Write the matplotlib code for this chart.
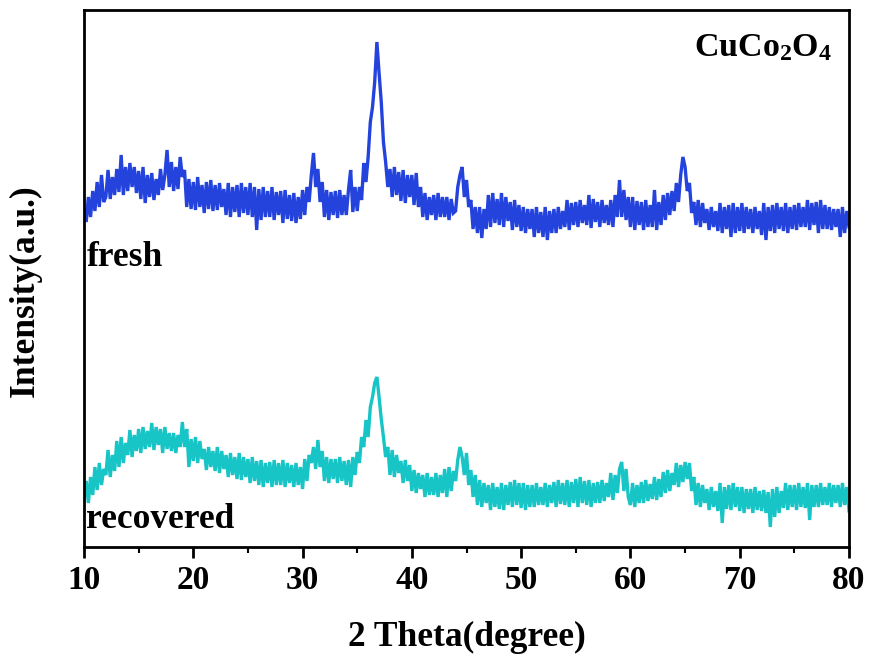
import numpy as np
import matplotlib
matplotlib.use("Agg")
import matplotlib.pyplot as plt

# 2-theta scan from 10 to 80 degrees, 0.2 degree step (5 points per degree)
theta_start, theta_end, theta_step = 10.0, 80.0, 0.2

# Intensities (a.u.), one row per degree
fresh = [
    338, 325, 350, 330, 356,   # 10
    336, 365, 340, 372, 345,   # 11
    350, 377, 348, 370, 352,   # 12
    378, 355, 392, 352, 380,   # 13
    356, 384, 360, 380, 354,   # 14
    376, 348, 380, 344, 372,   # 15
    350, 374, 347, 368, 352,   # 16
    378, 357, 372, 397, 360,   # 17
    385, 356, 380, 358, 390,   # 18
    370, 377, 340, 368, 338,   # 19
    365, 337, 370, 340, 362,   # 20
    334, 365, 338, 367, 336,   # 21
    362, 337, 364, 340, 358,   # 22
    332, 364, 330, 360, 335,   # 23
    362, 330, 364, 334, 360,   # 24
    332, 364, 330, 360, 317,   # 25
    358, 327, 360, 330, 356,   # 26
    330, 360, 327, 355, 332,   # 27
    356, 324, 357, 328, 352,   # 28
    326, 354, 324, 350, 328,   # 29
    357, 332, 360, 345, 372,   # 30
    394, 360, 378, 345, 365,   # 31
    330, 357, 327, 355, 332,   # 32
    356, 329, 357, 332, 352,   # 33
    332, 357, 377, 335, 360,   # 34
    336, 360, 347, 384, 365,   # 35
    390, 425, 440, 465, 505,   # 36
    474, 445, 405, 385, 360,   # 37
    378, 350, 380, 352, 375,   # 38
    346, 377, 344, 372, 350,   # 39
    372, 342, 374, 340, 360,   # 40
    330, 354, 327, 350, 332,   # 41
    352, 327, 354, 330, 350,   # 42
    330, 350, 327, 348, 334,   # 43
    336, 360, 372, 380, 350,   # 44
    367, 340, 347, 318, 340,   # 45
    314, 340, 309, 338, 318,   # 46
    352, 320, 354, 324, 348,   # 47
    322, 354, 320, 350, 326,   # 48
    345, 317, 347, 320, 342,   # 49
    316, 340, 314, 338, 318,   # 50
    338, 310, 340, 314, 335,   # 51
    310, 340, 307, 336, 314,   # 52
    338, 314, 340, 318, 336,   # 53
    320, 347, 317, 344, 322,   # 54
    345, 320, 347, 324, 342,   # 55
    322, 352, 319, 348, 325,   # 56
    345, 320, 347, 324, 342,   # 57
    322, 347, 320, 352, 330,   # 58
    367, 330, 357, 327, 350,   # 59
    320, 350, 317, 346, 322,   # 60
    345, 317, 347, 320, 342,   # 61
    320, 357, 317, 345, 322,   # 62
    352, 327, 354, 332, 356,   # 63
    336, 364, 345, 372, 390,   # 64
    380, 356, 364, 334, 345,   # 65
    322, 347, 320, 344, 324,   # 66
    338, 317, 340, 320, 336,   # 67
    316, 344, 314, 340, 318,   # 68
    342, 310, 344, 314, 340,   # 69
    316, 344, 314, 340, 318,   # 70
    338, 314, 340, 318, 336,   # 71
    312, 344, 307, 340, 316,   # 72
    342, 314, 344, 318, 340,   # 73
    316, 344, 314, 340, 318,   # 74
    342, 317, 344, 320, 340,   # 75
    320, 347, 317, 344, 322,   # 76
    345, 314, 347, 318, 342,   # 77
    318, 340, 317, 338, 320,   # 78
    338, 310, 340, 314, 336,   # 79
    320,                       # 80
]

recovered = [
    48, 66, 44, 70, 52,        # 10
    80, 57, 84, 62, 78,        # 11
    72, 97, 70, 92, 76,        # 12
    106, 80, 110, 84, 104,     # 13
    92, 117, 90, 112, 96,      # 14
    118, 94, 120, 98, 116,     # 15
    100, 124, 97, 120, 102,    # 16
    118, 94, 120, 98, 114,     # 17
    96, 114, 94, 112, 100,     # 18
    125, 100, 118, 80, 108,    # 19
    86, 110, 84, 106, 88,      # 20
    98, 77, 100, 80, 96,       # 21
    76, 100, 74, 96, 78,       # 22
    92, 70, 94, 72, 90,        # 23
    68, 94, 67, 90, 70,        # 24
    88, 64, 90, 66, 86,        # 25
    62, 87, 60, 84, 64,        # 26
    85, 60, 87, 62, 84,        # 27
    62, 87, 60, 84, 64,        # 28
    82, 60, 84, 62, 80,        # 29
    58, 88, 66, 92, 84,        # 30
    100, 78, 107, 80, 96,      # 31
    66, 90, 64, 88, 68,        # 32
    88, 64, 90, 66, 86,        # 33
    62, 87, 60, 90, 72,        # 34
    95, 84, 110, 100, 127,     # 35
    110, 140, 150, 164, 170,   # 36
    150, 128, 110, 90, 100,    # 37
    72, 97, 70, 92, 74,        # 38
    86, 64, 87, 66, 82,        # 39
    56, 77, 54, 74, 58,        # 40
    72, 50, 74, 52, 70,        # 41
    52, 74, 50, 72, 54,        # 42
    78, 50, 80, 56, 76,        # 43
    66, 87, 100, 90, 72,       # 44
    94, 62, 77, 50, 72,        # 45
    42, 67, 40, 64, 44,        # 46
    62, 37, 64, 40, 60,        # 47
    38, 64, 37, 62, 42,        # 48
    65, 40, 67, 42, 64,        # 49
    39, 64, 37, 62, 40,        # 50
    62, 40, 64, 42, 60,        # 51
    42, 64, 40, 62, 44,        # 52
    65, 40, 67, 43, 64,        # 53
    42, 67, 40, 65, 44,        # 54
    68, 40, 70, 44, 66,        # 55
    42, 67, 40, 64, 44,        # 56
    65, 44, 67, 46, 64,        # 57
    50, 74, 47, 72, 54,        # 58
    78, 85, 56, 78, 50,        # 59
    42, 64, 40, 62, 44,        # 60
    65, 44, 67, 46, 63,        # 61
    48, 70, 47, 68, 50,        # 62
    75, 54, 77, 56, 74,        # 63
    62, 84, 60, 82, 65,        # 64
    85, 68, 84, 56, 70,        # 65
    42, 64, 40, 62, 44,        # 66
    58, 37, 60, 40, 56,        # 67
    36, 64, 24, 60, 38,        # 68
    62, 37, 64, 40, 60,        # 69
    36, 60, 34, 58, 38,        # 70
    58, 34, 60, 37, 56,        # 71
    36, 57, 34, 55, 20,        # 72
    58, 30, 60, 34, 56,        # 73
    39, 64, 37, 62, 40,        # 74
    62, 37, 64, 40, 60,        # 75
    39, 64, 27, 62, 40,        # 76
    62, 40, 64, 42, 60,        # 77
    42, 64, 40, 62, 44,        # 78
    62, 40, 64, 42, 60,        # 79
    36,                        # 80
]

series_labels = ["fresh", "recovered"]
x_ticks = [10, 20, 30, 40, 50, 60, 70, 80]
x_label = "2 Theta(degree)"
y_label = "Intensity(a.u.)"
title_text = r"CuCo$_\mathbf{2}$O$_\mathbf{4}$"

plt.rcParams["font.family"] = ["Liberation Serif", "DejaVu Serif"]
plt.rcParams["font.weight"] = "bold"
plt.rcParams["mathtext.fontset"] = "custom"
plt.rcParams["mathtext.rm"] = "Liberation Serif:bold"
plt.rcParams["mathtext.bf"] = "Liberation Serif:bold"
plt.rcParams["mathtext.it"] = "Liberation Serif:bold"

two_theta = theta_start + theta_step * np.arange(len(fresh))

fig = plt.figure(figsize=(8.71, 6.57), dpi=100)
ax = fig.add_axes([84 / 871, 1 - 547 / 657, 765 / 871, 537 / 657])

ax.plot(two_theta, fresh, color="#2443DC", lw=2.4, solid_joinstyle="miter")
ax.plot(two_theta, recovered, color="#17C4C6", lw=2.4, solid_joinstyle="miter")

ax.set_xlim(theta_start, theta_end)
ax.set_ylim(0, 537)
ax.set_xticks(x_ticks)
ax.set_xticks(np.arange(15, 80, 10), minor=True)
ax.set_yticks([])
ax.tick_params(axis="x", which="major", direction="out", length=8, width=2,
               labelsize=24, pad=5)
ax.tick_params(axis="x", which="minor", direction="out", length=4, width=1.5)
for lab in ax.get_xticklabels():
    lab.set_fontweight("bold")
for sp in ax.spines.values():
    sp.set_linewidth(2)

ax.set_xlabel(x_label, fontsize=25.5, fontweight="bold", labelpad=18)
ax.set_ylabel(y_label, fontsize=25.5, fontweight="bold")
ax.yaxis.set_label_coords(-0.055, 0.478)

ax.text(0.003, 0.523, series_labels[0], transform=ax.transAxes, fontsize=25.5,
        fontweight="bold", ha="left", va="baseline")
ax.text(0.003, 0.035, series_labels[1], transform=ax.transAxes, fontsize=25.5,
        fontweight="bold", ha="left", va="baseline")
ax.text(0.978, 0.914, title_text, transform=ax.transAxes, fontsize=24.5,
        fontweight="bold", ha="right", va="baseline")

fig.savefig("out.png", dpi=100)
